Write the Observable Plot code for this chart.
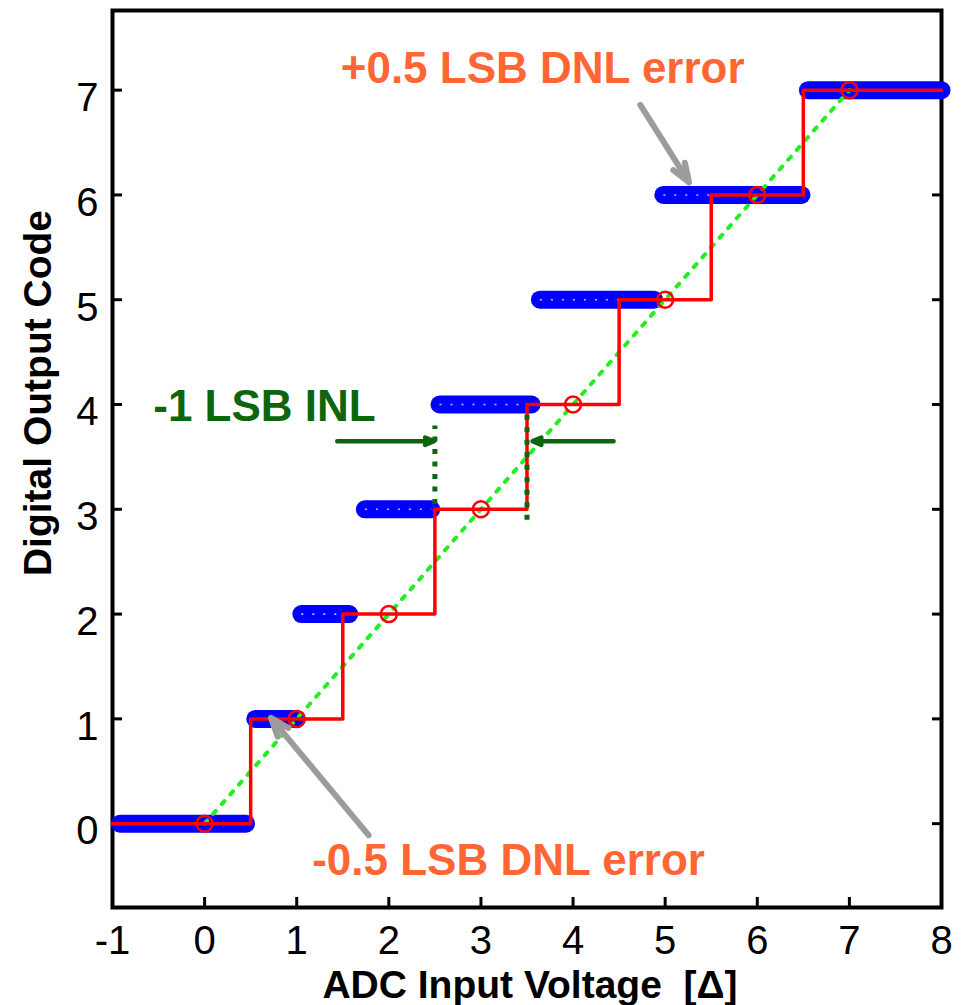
<!DOCTYPE html>
<html><head><meta charset="utf-8">
<script src="https://cdn.jsdelivr.net/npm/d3@7"></script>
<script src="https://cdn.jsdelivr.net/npm/@observablehq/plot@0.6"></script>
<style>body{margin:0;background:#fff}</style>
</head><body><div id="chart"></div>
<script>
// Axis ticks
const xTicks = [-1, 0, 1, 2, 3, 4, 5, 6, 7, 8];
const yTicks = [0, 1, 2, 3, 4, 5, 6, 7];

// Measured (non-ideal) ADC: each output code and the input range it covers
const codes     = [0, 1, 2, 3, 4, 5, 6, 7];
const bandStart = [-0.92, 0.55, 1.05, 1.74, 2.55, 3.64, 4.98, 6.55];
const bandEnd   = [0.45, 1.00, 1.57, 2.46, 3.55, 4.88, 6.48, 8.00];

// Ideal staircase (midpoint step) and its code centres
const idealX = [-1, 0, 1, 2, 3, 4, 5, 6, 7, 8];
const idealY = [0, 0, 1, 2, 3, 4, 5, 6, 7, 7];
const centerX = [0, 1, 2, 3, 4, 5, 6, 7];
const centerY = [0, 1, 2, 3, 4, 5, 6, 7];

// Ideal straight line
const diagX = [0, 7];
const diagY = [0, 7];

// INL markers
const inlX  = [2.5, 3.5];
const inlY1 = [3.05, 2.9];
const inlY2 = [3.8, 3.92];
const inlArrowX1 = [1.44, 4.44];
const inlArrowX2 = [2.49, 3.56];
const inlArrowY  = [3.65, 3.65];

// DNL pointer arrows
const dnlArrowX1 = [1.78, 4.73];
const dnlArrowY1 = [-0.11, 6.86];
const dnlArrowX2 = [0.72, 5.26];
const dnlArrowY2 = [1.01, 6.12];

// Annotations
const dnlLabels = ["+0.5 LSB DNL error", "-0.5 LSB DNL error"];
const dnlLabelX = [3.67, 3.30];
const dnlLabelY = [7.07, -0.49];
const inlLabels = ["-1 LSB INL"];
const inlLabelX = [0.65];
const inlLabelY = [3.84];

const xLabel = ["ADC Input Voltage \u00a0[\u0394]"];
const yLabel = ["Digital Output Code"];

const FONT = "'Liberation Sans', Arial, Helvetica, sans-serif";
const ORANGE = "#ff6633";
const DKGREEN = "#0d650d";

const chart = Plot.plot({
  width: 968,
  height: 1005,
  marginLeft: 112,
  marginRight: 27,
  marginTop: 10,
  marginBottom: 98,
  style: {fontFamily: FONT, fontSize: "40px", background: "white", overflow: "visible", color: "black"},
  x: {domain: [-1, 8], label: null},
  y: {domain: [-0.8, 7.76], label: null},
  marks: [
    Plot.frame({stroke: "black", strokeWidth: 4}),
    Plot.axisX(xTicks, {anchor: "bottom", tickSize: -10, tickPadding: 28, strokeWidth: 3, fontSize: 40, tickFormat: d => String(d), label: null}),
    Plot.axisY(yTicks, {anchor: "left", tickSize: -10, strokeWidth: 3, tickFormat: () => "", label: null}),
    Plot.axisY(yTicks, {anchor: "left", tickSize: 0, tickPadding: 14, fontSize: 40, dy: 8, tickFormat: d => String(d), label: null}),
    Plot.axisY(yTicks, {anchor: "right", tickSize: -10, strokeWidth: 3, tickFormat: () => "", label: null}),

    // measured ADC (dense blue markers)
    Plot.link(codes, {x1: bandStart, x2: bandEnd, y1: codes, y2: codes, stroke: "#0000ff", strokeWidth: 18, strokeLinecap: "round"}),
    Plot.link(codes, {x1: bandStart, x2: bandEnd, y1: codes, y2: codes, stroke: "white", strokeWidth: 1.6, strokeOpacity: 0.75, strokeDasharray: "2 9"}),

    // ideal straight line
    Plot.line(diagX, {x: diagX, y: diagY, stroke: "#22ee22", strokeWidth: 4, strokeDasharray: "4 9"}),

    // ideal staircase
    Plot.line(idealX, {x: idealX, y: idealY, curve: "step", stroke: "#ff0000", strokeWidth: 3.5}),
    Plot.dot(centerX, {x: centerX, y: centerY, r: 8, stroke: "#ff0000", strokeWidth: 2.5, fill: "none"}),

    // INL markers
    Plot.link(inlX, {x1: inlX, x2: inlX, y1: inlY1, y2: inlY2, stroke: DKGREEN, strokeWidth: 5, strokeDasharray: "5 7.5"}),
    Plot.arrow(inlArrowX1, {x1: inlArrowX1, x2: inlArrowX2, y1: inlArrowY, y2: inlArrowY, stroke: DKGREEN, strokeWidth: 4.5, headLength: 3.2, headAngle: 45}),

    // DNL pointers
    Plot.arrow(dnlArrowX1, {x1: dnlArrowX1, y1: dnlArrowY1, x2: dnlArrowX2, y2: dnlArrowY2, stroke: "#9c9c9c", strokeWidth: 6, headLength: 5, headAngle: 40}),

    // annotation texts
    Plot.text(dnlLabels, {x: dnlLabelX, y: dnlLabelY, text: d => d, fill: ORANGE, fontSize: 44, fontWeight: "bold", textAnchor: "middle", lineAnchor: "bottom"}),
    Plot.text(inlLabels, {x: inlLabelX, y: inlLabelY, text: d => d, fill: DKGREEN, fontSize: 44, fontWeight: "bold", textAnchor: "middle", lineAnchor: "bottom"}),

    // axis titles
    Plot.text(xLabel, {frameAnchor: "bottom", text: d => d, dx: 3, dy: 90, fontSize: 39, fontWeight: "bold", fill: "black", lineAnchor: "bottom", textAnchor: "middle"}),
    Plot.text(yLabel, {frameAnchor: "left", text: d => d, dx: -62, dy: -66, rotate: -90, fontSize: 39, fontWeight: "bold", fill: "black", lineAnchor: "bottom", textAnchor: "middle"})
  ]
});
document.getElementById("chart").appendChild(chart);
</script>
</body></html>
